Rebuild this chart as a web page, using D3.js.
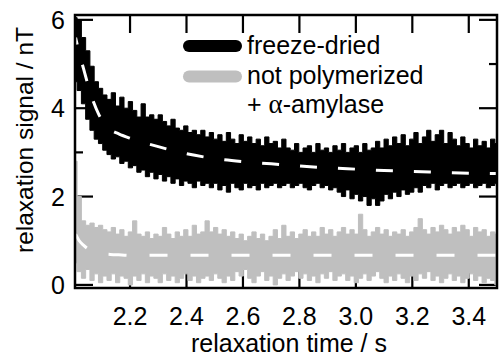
<!DOCTYPE html>
<html>
<head>
<meta charset="utf-8">
<script src="https://cdn.jsdelivr.net/npm/d3@7"></script>
<style>
  body { margin: 0; background: #fff; }
  text { font-family: "Liberation Sans", Arial, sans-serif; fill: #000; }
</style>
</head>
<body>
<figure id="chart" style="margin:0"></figure>
<script>
// signals are sampled on a uniform time grid (s)
const sampleStart = 2.005;
const sampleStep = 0.0151;

// freeze-dried: upper / lower edge of the noisy trace (nT)
const blackUpper = [6.05, 6.0, 5.6, 5.3, 4.95, 4.6, 4.45, 4.3, 4.2, 4.35,
  4.05, 4.25, 4.0, 4.15, 3.95, 3.8, 4.1, 3.8, 3.85, 3.75,
  3.85, 3.7, 3.6, 3.75, 3.55, 3.5, 3.6, 3.45, 3.5, 3.4,
  3.5, 3.35, 3.45, 3.3, 3.4, 3.25, 3.45, 3.3, 3.2, 3.4,
  3.25, 3.35, 3.2, 3.3, 3.15, 3.35, 3.2, 3.25, 3.1, 3.3,
  3.1, 3.05, 3.2, 3.0, 3.1, 3.15, 3.0, 3.2, 3.05, 3.1,
  3.0, 3.15, 3.05, 3.2, 3.0, 3.1, 3.15, 3.0, 3.2, 3.05,
  3.1, 3.25, 3.1, 3.3, 3.15, 3.35, 3.2, 3.4, 3.15, 3.3,
  3.45, 3.2, 3.35, 3.5, 3.25, 3.4, 3.5, 3.2, 3.45, 3.3,
  3.15, 3.35, 3.2, 3.1, 3.3, 3.15, 3.25, 3.1, 3.3, 3.2];
const blackLower = [4.6, 4.4, 4.1, 3.75, 3.5, 3.3, 3.2, 3.05, 2.95, 2.85,
  2.9, 2.75, 2.8, 2.65, 2.7, 2.55, 2.6, 2.45, 2.55, 2.4,
  2.5, 2.35, 2.45, 2.3, 2.4, 2.25, 2.35, 2.3, 2.2, 2.35,
  2.25, 2.3, 2.2, 2.3, 2.15, 2.25, 2.1, 2.3, 2.2, 2.15,
  2.3, 2.2, 2.25, 2.15, 2.3, 2.2, 2.25, 2.3, 2.2, 2.25,
  2.3, 2.2, 2.25, 2.3, 2.2, 2.15, 2.25, 2.3, 2.2, 2.25,
  2.15, 2.2, 2.1, 2.0, 2.15, 1.95, 2.05, 1.9, 2.0, 1.8,
  1.95, 1.8, 1.9, 2.05, 1.95, 2.1, 2.0, 2.15, 2.05, 2.1,
  2.2, 2.1, 2.25, 2.2, 2.3, 2.15, 2.25, 2.3, 2.2, 2.25,
  2.3, 2.2, 2.25, 2.3, 2.2, 2.25, 2.3, 2.2, 2.25, 2.3];

// not polymerized + alpha-amylase
const grayUpper = [2.8, 2.0, 1.45, 1.35, 1.4, 1.3, 1.35, 1.25, 1.2, 1.3,
  1.15, 1.25, 1.1, 1.2, 1.45, 1.15, 1.1, 1.2, 1.05, 1.15,
  1.1, 1.3, 1.15, 1.05, 1.2, 1.1, 1.25, 1.1, 1.35, 1.15,
  1.2, 1.45, 1.2, 1.3, 1.15, 1.25, 1.1, 1.2, 1.05, 1.15,
  1.0, 1.1, 1.2, 1.05, 1.15, 1.0, 1.1, 1.25, 1.05, 1.35,
  1.1, 1.2, 1.05, 1.15, 1.25, 1.1, 1.2, 1.1, 1.3, 1.15,
  1.25, 1.1, 1.2, 1.3, 1.15, 1.25, 1.15, 1.6, 1.25, 1.1,
  1.2, 1.3, 1.15, 1.25, 1.1, 1.2, 1.15, 1.25, 1.1, 1.2,
  1.3, 1.5, 1.25, 1.15, 1.3, 1.2, 1.35, 1.25, 1.15, 1.3,
  1.2, 1.35, 1.25, 1.1, 1.3, 1.2, 1.25, 1.1, 1.2, 1.15];
const grayLower = [0.5, 0.3, 0.15, 0.35, 0.1, 0.25, 0.05, 0.2, 0.1, 0.25,
  0.05, 0.2, 0.15, 0.0, 0.2, 0.1, 0.25, 0.05, 0.2, 0.15,
  0.05, 0.25, 0.1, 0.2, 0.05, 0.15, 0.25, 0.1, 0.2, 0.05,
  0.15, 0.2, 0.1, 0.25, 0.15, 0.05, 0.2, 0.1, 0.3, 0.2,
  0.35, 0.15, 0.05, 0.2, 0.3, 0.1, 0.2, 0.0, 0.15, 0.25,
  0.1, 0.2, 0.3, 0.15, 0.25, 0.1, 0.2, 0.05, 0.25, 0.15,
  0.3, 0.1, 0.2, 0.25, 0.1, 0.2, 0.05, 0.15, 0.25, 0.1,
  0.2, 0.3, 0.15, 0.05, 0.2, 0.1, 0.25, 0.15, 0.05, 0.2,
  0.1, 0.25, 0.15, 0.3, 0.1, 0.2, 0.05, 0.15, 0.25, 0.1,
  0.2, 0.05, 0.15, 0.25, 0.1, 0.2, 0.05, 0.15, 0.1, 0.0];

// fitted curves (white dashed)
const fitTime = [2.007, 2.02, 2.035, 2.05, 2.07, 2.09, 2.11, 2.13, 2.16, 2.2, 2.25, 2.3,
  2.4, 2.5, 2.6, 2.7, 2.8, 2.9, 3.0, 3.1, 3.2, 3.3, 3.4, 3.5];
const fitBlack = [5.6, 5.25, 4.9, 4.55, 4.15, 3.85, 3.65, 3.52, 3.42, 3.32, 3.22, 3.13,
  2.97, 2.86, 2.79, 2.74, 2.69, 2.65, 2.62, 2.59, 2.57, 2.55, 2.53, 2.52];
const fitGray = [1.15, 1.0, 0.9, 0.82, 0.76, 0.72, 0.7, 0.69, 0.68, 0.67, 0.67, 0.67,
  0.67, 0.67, 0.67, 0.67, 0.67, 0.67, 0.67, 0.67, 0.67, 0.67, 0.67, 0.67];

const xTicks = [2.2, 2.4, 2.6, 2.8, 3.0, 3.2, 3.4];
const yTicks = [0, 2, 4, 6];
const yMinorTicks = [1, 3, 5];
const legendLabels = ['freeze-dried', 'not polymerized'];

const width = 499, height = 356;
const plotLeft = 75, plotRight = 497, plotTop = 15, plotBottom = 288;
const majorLen = 18, minorLen = 8;

const svg = d3.select('figure#chart').append('svg')
  .attr('width', width)
  .attr('height', height);

const x = d3.scaleLinear().domain([2.005, 3.5]).range([plotLeft, plotRight]);
const y = d3.scaleLinear().domain([-0.07, 6.11]).range([plotBottom, plotTop]);

// ticks (inward, all four sides) go under the data
const tickG = svg.append('g').attr('stroke', '#000').attr('stroke-width', 2.2);
xTicks.forEach(t => {
  tickG.append('line').attr('x1', x(t)).attr('x2', x(t)).attr('y1', plotBottom).attr('y2', plotBottom - majorLen);
  tickG.append('line').attr('x1', x(t)).attr('x2', x(t)).attr('y1', plotTop).attr('y2', plotTop + majorLen);
});
yTicks.forEach(v => {
  tickG.append('line').attr('x1', plotLeft).attr('x2', plotLeft + majorLen).attr('y1', y(v)).attr('y2', y(v));
  tickG.append('line').attr('x1', plotRight).attr('x2', plotRight - majorLen).attr('y1', y(v)).attr('y2', y(v));
});
yMinorTicks.forEach(v => {
  tickG.append('line').attr('x1', plotLeft).attr('x2', plotLeft + minorLen).attr('y1', y(v)).attr('y2', y(v));
  tickG.append('line').attr('x1', plotRight).attr('x2', plotRight - minorLen).attr('y1', y(v)).attr('y2', y(v));
});

svg.append('clipPath').attr('id', 'plot-clip')
  .append('rect').attr('x', plotLeft).attr('y', plotTop)
  .attr('width', plotRight - plotLeft).attr('height', plotBottom - plotTop);

const plot = svg.append('g').attr('clip-path', 'url(#plot-clip)');

function band(upper, lower) {
  return upper.map((u, i) => ({ t: sampleStart + i * sampleStep, hi: u, lo: lower[i] }));
}
const area = d3.area()
  .x(d => x(d.t))
  .y0(d => y(d.lo))
  .y1(d => y(d.hi))
  .curve(d3.curveStep);

plot.append('path')
  .datum(band(grayUpper, grayLower))
  .attr('d', area)
  .attr('fill', '#bfbfbf')
  .attr('stroke', '#bfbfbf')
  .attr('stroke-width', 1);

plot.append('path')
  .datum(band(blackUpper, blackLower))
  .attr('d', area)
  .attr('fill', '#000')
  .attr('stroke', '#000')
  .attr('stroke-width', 1);

const fitLine = d3.line().x(d => x(d[0])).y(d => y(d[1])).curve(d3.curveMonotoneX);

plot.append('path')
  .datum(fitTime.map((t, i) => [t, fitBlack[i]]))
  .attr('d', fitLine)
  .attr('fill', 'none')
  .attr('stroke', '#fff')
  .attr('stroke-width', 3)
  .attr('stroke-dasharray', '17,21')
  .attr('stroke-dashoffset', 10);

plot.append('path')
  .datum(fitTime.map((t, i) => [t, fitGray[i]]))
  .attr('d', fitLine)
  .attr('fill', 'none')
  .attr('stroke', '#fff')
  .attr('stroke-width', 3)
  .attr('stroke-dasharray', '18,23')
  .attr('stroke-dashoffset', 0);

// frame
svg.append('rect')
  .attr('x', plotLeft).attr('y', plotTop)
  .attr('width', plotRight - plotLeft).attr('height', plotBottom - plotTop)
  .attr('fill', 'none').attr('stroke', '#000').attr('stroke-width', 2.5);

// tick labels
svg.append('g').selectAll('text').data(xTicks).enter().append('text')
  .attr('x', d => x(d)).attr('y', 325)
  .attr('text-anchor', 'middle')
  .attr('font-size', 25)
  .text(d => d.toFixed(1));

svg.append('g').selectAll('text').data(yTicks).enter().append('text')
  .attr('x', 65).attr('y', d => y(d) + 9)
  .attr('text-anchor', 'end')
  .attr('font-size', 25)
  .text(d => d);

// axis titles
svg.append('text')
  .attr('x', 289).attr('y', 352)
  .attr('text-anchor', 'middle')
  .attr('font-size', 25)
  .text('relaxation time / s');

svg.append('text')
  .attr('transform', 'translate(33,140) rotate(-90)')
  .attr('text-anchor', 'middle')
  .attr('font-size', 24.5)
  .text('relaxation signal / nT');

// legend
const legend = svg.append('g');
legend.append('line')
  .attr('x1', 189).attr('x2', 236).attr('y1', 46).attr('y2', 46)
  .attr('stroke', '#000').attr('stroke-width', 12).attr('stroke-linecap', 'round');
legend.append('line')
  .attr('x1', 189).attr('x2', 236).attr('y1', 76.5).attr('y2', 76.5)
  .attr('stroke', '#bfbfbf').attr('stroke-width', 12).attr('stroke-linecap', 'round');
legend.append('text').attr('x', 247).attr('y', 54).attr('font-size', 25).text(legendLabels[0]);
legend.append('text').attr('x', 247).attr('y', 84).attr('font-size', 25).text(legendLabels[1]);
const amyl = legend.append('text').attr('x', 247).attr('y', 113).attr('font-size', 25);
amyl.append('tspan').text('+ ');
amyl.append('tspan').attr('font-family', '"Liberation Serif", serif').attr('font-size', 27).text('α');
amyl.append('tspan').text('-amylase');
</script>
</body>
</html>
